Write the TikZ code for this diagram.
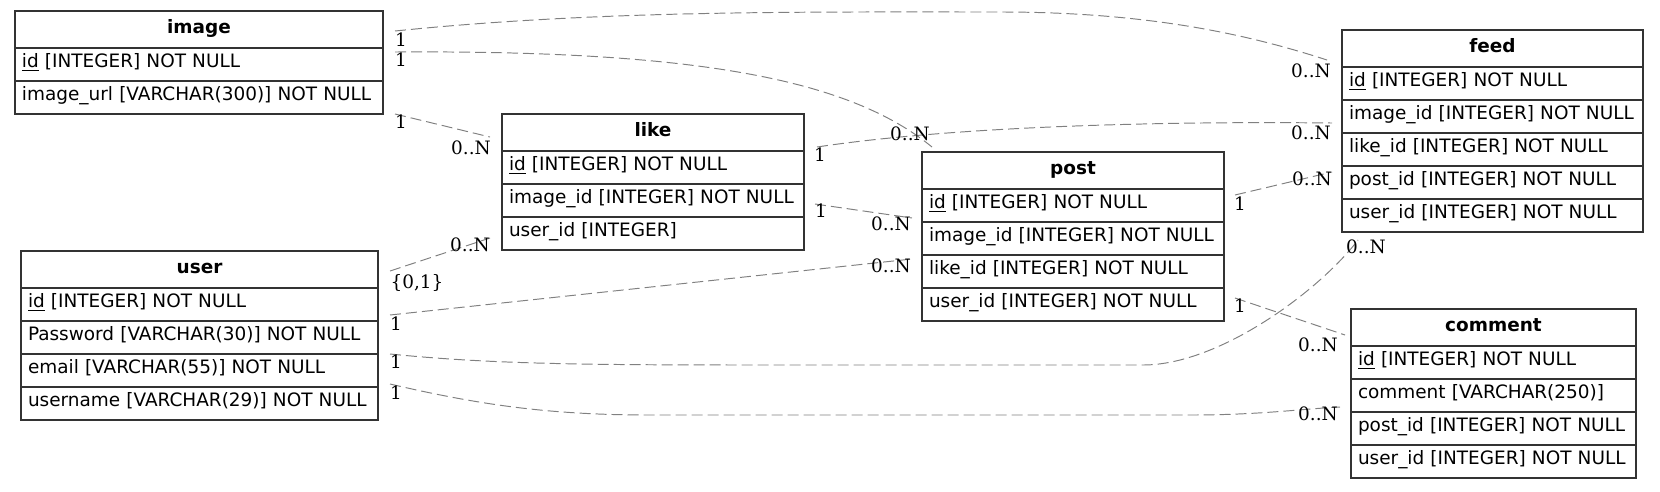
\documentclass[tikz,border=0pt]{standalone}
\usepackage{fontspec}
\setmainfont{DejaVu Sans}
\newfontfamily\cardfont{DejaVu Serif}
\usetikzlibrary{positioning, calc}
\newcommand\tblfont{\fontsize{10.5}{12.6}\selectfont}
\tikzset{
  tblrow/.style={draw=black!80, line width=0.85pt, outer sep=0pt,
    inner xsep=1.4mm, inner ysep=0pt, text width=#1, align=left,
    minimum height=6.6mm, text height=2.6mm, text depth=1.4mm,
    font=\tblfont},
  tblhead/.style={tblrow=#1, align=center, minimum height=7.4mm,
    text height=2.8mm, text depth=1.3mm, font=\tblfont\bfseries},
  rel/.style={draw=black!50, line width=0.55pt, dash pattern=on 2.2mm off 1mm},
  card/.style={inner sep=0pt, font=\tblfont\cardfont}
}
\begin{document}
\begin{tikzpicture}[x=0.2mm, y=-0.2mm]
        \useasboundingbox (0,0) rectangle (1660,491);
        % image
        \node[tblhead=70.8mm, anchor=north west] (image0) at (15,11) {image};
        \node[tblrow=70.8mm, below=0pt of image0] (image1) {\underline{id} [INTEGER] NOT NULL};
        \node[tblrow=70.8mm, below=0pt of image1] (image2) {image\_url [VARCHAR(300)] NOT NULL};
        % like
        \node[tblhead=57.6mm, anchor=north west] (like0) at (502,114) {like};
        \node[tblrow=57.6mm, below=0pt of like0] (like1) {\underline{id} [INTEGER] NOT NULL};
        \node[tblrow=57.6mm, below=0pt of like1] (like2) {image\_id [INTEGER] NOT NULL};
        \node[tblrow=57.6mm, below=0pt of like2] (like3) {user\_id [INTEGER]};
        % user
        \node[tblhead=68.6mm, anchor=north west] (user0) at (21,251) {user};
        \node[tblrow=68.6mm, below=0pt of user0] (user1) {\underline{id} [INTEGER] NOT NULL};
        \node[tblrow=68.6mm, below=0pt of user1] (user2) {Password [VARCHAR(30)] NOT NULL};
        \node[tblrow=68.6mm, below=0pt of user2] (user3) {email [VARCHAR(55)] NOT NULL};
        \node[tblrow=68.6mm, below=0pt of user3] (user4) {username [VARCHAR(29)] NOT NULL};
        % post
        \node[tblhead=57.6mm, anchor=north west] (post0) at (922,152) {post};
        \node[tblrow=57.6mm, below=0pt of post0] (post1) {\underline{id} [INTEGER] NOT NULL};
        \node[tblrow=57.6mm, below=0pt of post1] (post2) {image\_id [INTEGER] NOT NULL};
        \node[tblrow=57.6mm, below=0pt of post2] (post3) {like\_id [INTEGER] NOT NULL};
        \node[tblrow=57.6mm, below=0pt of post3] (post4) {user\_id [INTEGER] NOT NULL};
        % feed
        \node[tblhead=57.4mm, anchor=north west] (feed0) at (1342,30) {feed};
        \node[tblrow=57.4mm, below=0pt of feed0] (feed1) {\underline{id} [INTEGER] NOT NULL};
        \node[tblrow=57.4mm, below=0pt of feed1] (feed2) {image\_id [INTEGER] NOT NULL};
        \node[tblrow=57.4mm, below=0pt of feed2] (feed3) {like\_id [INTEGER] NOT NULL};
        \node[tblrow=57.4mm, below=0pt of feed3] (feed4) {post\_id [INTEGER] NOT NULL};
        \node[tblrow=57.4mm, below=0pt of feed4] (feed5) {user\_id [INTEGER] NOT NULL};
        % comment
        \node[tblhead=54.2mm, anchor=north west] (cmt0) at (1351,309) {comment};
        \node[tblrow=54.2mm, below=0pt of cmt0] (cmt1) {\underline{id} [INTEGER] NOT NULL};
        \node[tblrow=54.2mm, below=0pt of cmt1] (cmt2) {comment [VARCHAR(250)]};
        \node[tblrow=54.2mm, below=0pt of cmt2] (cmt3) {post\_id [INTEGER] NOT NULL};
        \node[tblrow=54.2mm, below=0pt of cmt3] (cmt4) {user\_id [INTEGER] NOT NULL};
        % relations
        \draw[rel] ($(image0.east)+(12,1.5)$) .. controls (600,10) and (800,12) .. (1000,12)
              .. controls (1150,12) and (1250,35) .. ($(feed0.west)+(-15,11.5)$);
        \draw[rel] ($(image0.south east)+(12,4)$) .. controls (700,50) and (850,80) .. ($(post0.north west)+(10,-5)$);
        \draw[rel] ($(image2.south east)+(12,0)$) -- ($(like0.west)+(-12,4.5)$);
        \draw[rel] ($(like0.south east)+(13,-4)$) .. controls (950,127) and (1150,121) .. ($(feed2.west)+(-10,6.5)$);
        \draw[rel] ($(like2.east)+(11,3.5)$) -- ($(post1.south west)+(-10,-4)$);
        \draw[rel] ($(user0.east)+(12,1.5)$) -- ($(like3.west)+(-12,4.5)$);
        \draw[rel] ($(user1.south east)+(12,-6)$) -- ($(post2.south west)+(-10,4)$);
        \draw[rel] ($(user2.south east)+(12,0)$) .. controls (500,365) and (600,365) .. (800,365) -- (1143,365)
              .. controls (1220,365) and (1320,290) .. ($(feed5.south west)+(16,8)$);
        \draw[rel] ($(user3.south east)+(12,-3)$) .. controls (480,405) and (550,415) .. (650,415) -- (1190,415)
              .. controls (1260,415) and (1300,409) .. ($(cmt2.south west)+(-11,-5)$);
        \draw[rel] ($(post4.east)+(11,-6.5)$) -- ($(cmt0.west)+(-6,7.5)$);
        \draw[rel] ($(post1.east)+(11,-10.5)$) -- ($(feed4.west)+(-10,-10.5)$);
        % cardinalities
        \node[card] (e1a) at (401,40) {1};
        \node[card] (e1b) at (1311,71) {0..N};
        \node[card] (e2a) at (401,60) {1};
        \node[card] (e2b) at (910,134) {0..N};
        \node[card] (e3a) at (401,122) {1};
        \node[card] (e3b) at (471,148) {0..N};
        \node[card] (e4a) at (820,155) {1};
        \node[card] (e4b) at (1311,133) {0..N};
        \node[card] (e5a) at (821,211) {1};
        \node[card] (e5b) at (891,224) {0..N};
        \node[card] (e6a) at (417,283) {\{0,1\}};
        \node[card] (e6b) at (470,245) {0..N};
        \node[card] (e7a) at (396,324) {1};
        \node[card] (e7b) at (891,266) {0..N};
        \node[card] (e8a) at (396,362) {1};
        \node[card] (e8b) at (1366,247) {0..N};
        \node[card] (e9a) at (396,393) {1};
        \node[card] (e9b) at (1318,414) {0..N};
        \node[card] (e10a) at (1240,306) {1};
        \node[card] (e10b) at (1318,345) {0..N};
        \node[card] (e11a) at (1240,204) {1};
        \node[card] (e11b) at (1312,179) {0..N};
      \end{tikzpicture}
\end{document}
